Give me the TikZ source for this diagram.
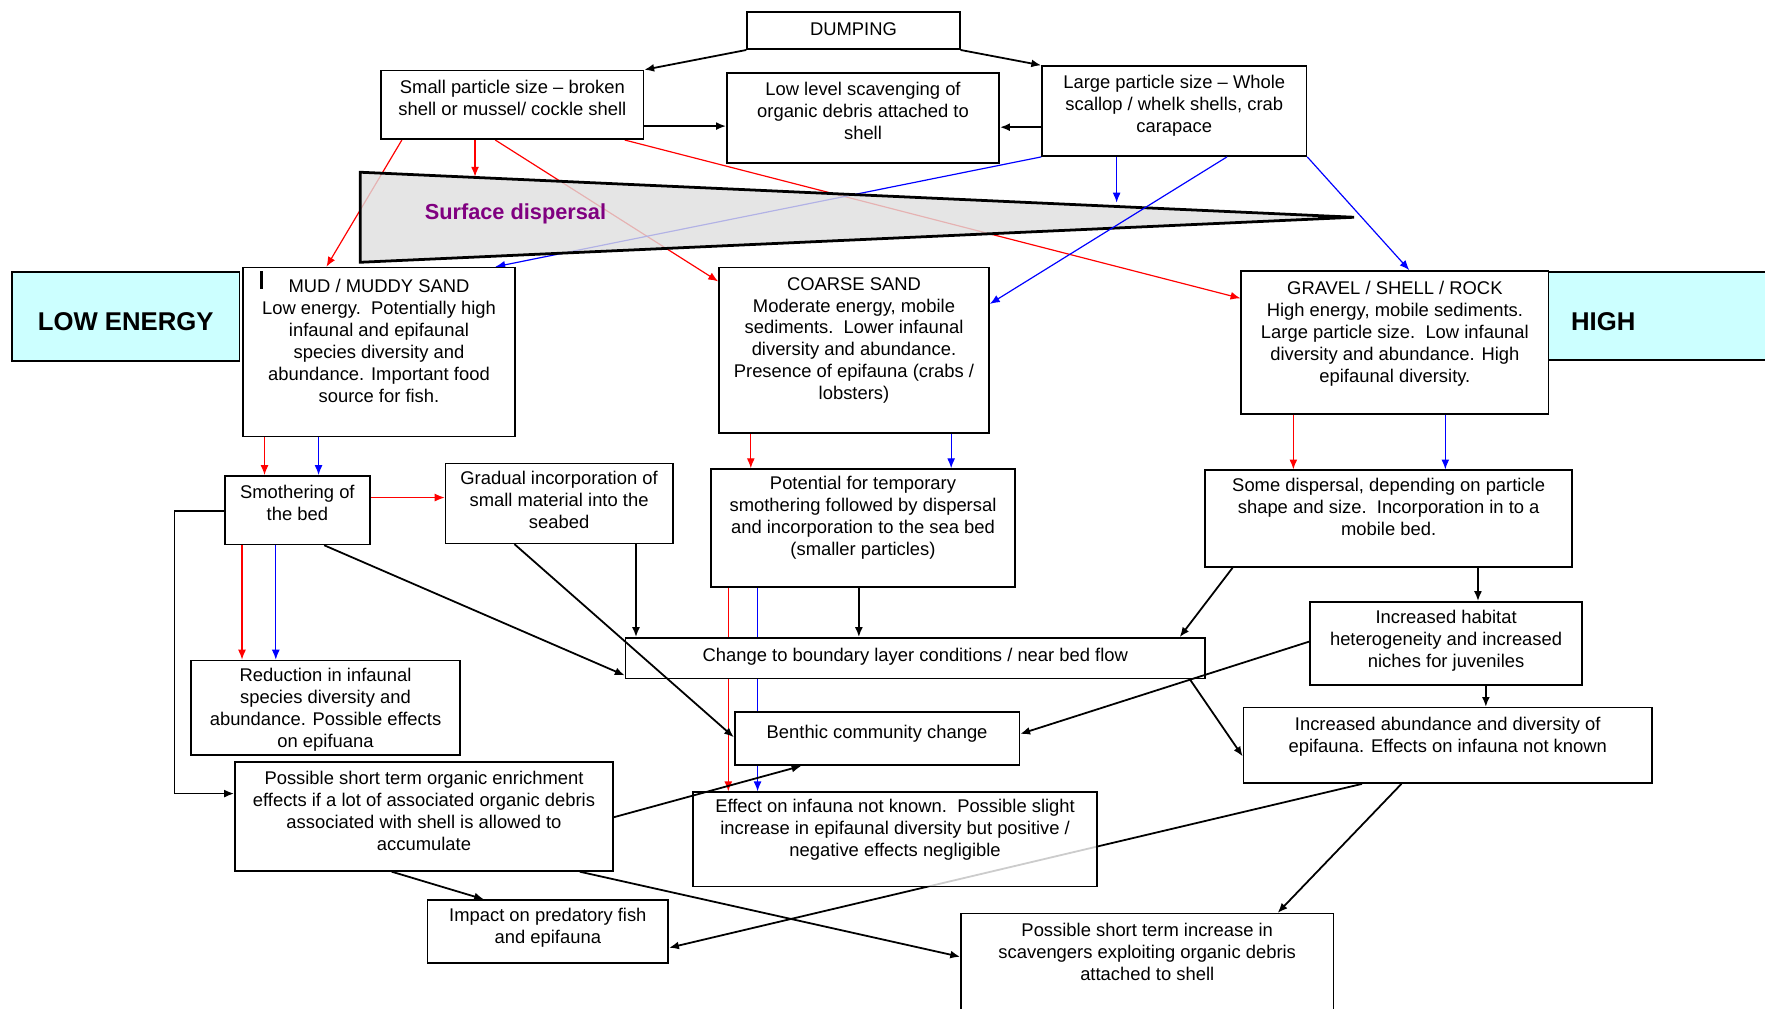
\documentclass[tikz,border=0pt]{standalone}
\usepackage{fontspec}
\setmainfont{Liberation Sans}
\usetikzlibrary{arrows.meta}
\usetikzlibrary{backgrounds}

\newcommand\boxfont{\fontsize{9.3}{11.1}\selectfont}
\definecolor{energycyan}{HTML}{CCFFFF}
\definecolor{sdpurple}{HTML}{800080}

\tikzset{
  box/.style={draw, line width=0.8pt, fill=white, align=center, inner sep=0pt, anchor=north west, font=\boxfont},
  energy/.style={draw, line width=0.8pt, fill=energycyan, inner sep=0pt, anchor=north west, font=\fontsize{13}{15}\selectfont\bfseries},
  arr/.style={-{Latex[length=5pt,width=4pt]}, line width=0.9pt},
  redarr/.style={arr, red, line width=0.6pt},
  bluearr/.style={arr, blue, line width=0.6pt}
}

\begin{document}
\begin{tikzpicture}[x=0.02cm, y=-0.02cm]
\useasboundingbox (0,0) rectangle (1568,896);

% top row
\node[box, minimum width=3.78cm, text height=0.42cm, text depth=0.24cm] (dump) at (663,10) {DUMPING};
\node[box, minimum width=4.66cm, text height=0.79cm, text depth=0.43cm] (small) at (338,62) {Small particle size -- broken\\shell or mussel/ cockle shell};
\node[box, minimum width=4.84cm, text height=1.18cm, text depth=0.42cm] (lowscav) at (645,64) {Low level scavenging of\\organic debris attached to\\shell};
\node[box, minimum width=4.70cm, text height=1.18cm, text depth=0.42cm] (large) at (925,58) {Large particle size -- Whole\\scallop / whelk shells, crab\\carapace};

% surface dispersal wedge
\coordinate (sdtl) at (320,153);
\coordinate (sdbl) at (320,233);
\coordinate (sdtip) at (1203,193);
\filldraw[fill=gray!25, fill opacity=0.8, line width=1.4pt] (sdtl) -- (sdtip) -- (sdbl) -- cycle;
\node[font=\fontsize{11}{13}\selectfont\bfseries, text=sdpurple, anchor=west, inner sep=0pt] (sdlabel) at (377,190) {Surface dispersal};
\coordinate (sdin1) at (422,157);
\coordinate (sdin2) at (992,180);

% sediment types
\node[energy, minimum width=4.04cm, text height=1.04cm, text depth=0.54cm] (lowe) at (10,241) {LOW ENERGY};
\node[box, minimum width=4.84cm, text height=2.39cm, text depth=0.61cm] (mud) at (215,237) {MUD / MUDDY SAND\\Low energy.\ \ Potentially high\\infaunal and epifaunal\\species diversity and\\abundance. Important food\\source for fish.};
\draw[line width=1.5pt] (232,241) -- (232,257);
\node[box, minimum width=4.80cm, text height=2.35cm, text depth=0.59cm] (coarse) at (638,237) {COARSE SAND\\Moderate energy, mobile\\sediments.\ \ Lower infaunal\\diversity and abundance.\\Presence of epifauna (crabs /\\lobsters)};
\node[box, minimum width=5.46cm, text height=1.98cm, text depth=0.56cm] (gravel) at (1102,240) {GRAVEL / SHELL / ROCK\\High energy, mobile sediments.\\Large particle size.\ \ Low infaunal\\diversity and abundance. High\\epifaunal diversity.};
\node[energy, text width=4.6cm, inner xsep=0.4cm, text height=1.04cm, text depth=0.52cm, align=left] (high) at (1375,241) {HIGH};

% effects
\node[box, minimum width=2.58cm, text height=0.79cm, text depth=0.43cm] (smoth) at (199,422) {Smothering of\\the bed};
\node[box, minimum width=4.04cm, text height=1.16cm, text depth=0.26cm] (gradual) at (395,411) {Gradual incorporation of\\small material into the\\seabed};
\node[box, minimum width=5.40cm, text height=1.53cm, text depth=0.57cm] (potential) at (631,416) {Potential for temporary\\smothering followed by dispersal\\and incorporation to the sea bed\\(smaller particles)};
\node[box, minimum width=6.52cm, text height=1.16cm, text depth=0.56cm] (somed) at (1070,417) {Some dispersal, depending on particle\\shape and size.\ \ Incorporation in to a\\mobile bed.};
\node[box, minimum width=10.30cm, text height=0.42cm, text depth=0.30cm] (change) at (555,566) {Change to boundary layer conditions / near bed flow};
\node[box, minimum width=4.84cm, text height=1.16cm, text depth=0.32cm] (habitat) at (1163,534) {Increased habitat\\heterogeneity and increased\\niches for juveniles};
\node[box, minimum width=4.78cm, text height=1.55cm, text depth=0.13cm] (reduct) at (169,586) {Reduction in infaunal\\species diversity and\\abundance. Possible effects\\on epifuana};
\node[box, minimum width=5.06cm, text height=0.46cm, text depth=0.48cm] (benthic) at (652,632) {Benthic community change};
\node[box, minimum width=7.26cm, text height=0.79cm, text depth=0.55cm] (abund) at (1104,628) {Increased abundance and diversity of\\epifauna. Effects on infauna not known};
\node[box, minimum width=6.72cm, text height=1.57cm, text depth=0.37cm] (organic) at (208,676) {Possible short term organic enrichment\\effects if a lot of associated organic debris\\associated with shell is allowed to\\accumulate};
\node[box, fill opacity=0.8, text opacity=1, minimum width=7.18cm, text height=1.14cm, text depth=0.54cm] (effect) at (615,703) {Effect on infauna not known.\ \ Possible slight\\increase in epifaunal diversity but positive /\\negative effects negligible};
\node[box, minimum width=4.28cm, text height=0.77cm, text depth=0.35cm] (impact) at (379,799) {Impact on predatory fish\\and epifauna};
\node[box, minimum width=6.62cm, text height=1.18cm, text depth=0.80cm] (scavinc) at (853,811) {Possible short term increase in\\scavengers exploiting organic debris\\attached to shell};

% connectors that run behind the wedge and the boxes
\begin{scope}[on background layer]
\fill[white] (0,0) rectangle (1568,896);
\draw[redarr] (small.south -| 357,0) -- (mud.north -| 290,0);
\draw[redarr] (small.south -| 440,0) -- (coarse.west |- 0,250);
\draw[redarr] (small.south -| 555,0) -- (gravel.west |- 0,265);
\draw[bluearr] (large.south west) -- (mud.north -| 440,0);
\draw[redarr] (potential.south -| 647,0) -- (effect.north -| 647,0);
\draw[bluearr] (potential.south -| 673,0) -- (effect.north -| 673,0);
\draw[arr] (abund.south -| 1210,0) -- (impact.east |- 0,842);
\end{scope}

% connectors
\draw[arr] (dump.south west) -- (small.north east);
\draw[arr] (dump.south east) -- (large.north west);
\draw[arr] (small.east |- 0,112) -- (lowscav.west |- 0,112);
\draw[arr] (large.west |- 0,113) -- (lowscav.east |- 0,113);
\draw[redarr] (small.south -| 422,0) -- (sdin1);
\draw[bluearr] (large.south -| 992,0) -- (sdin2);
\draw[bluearr] (large.south -| 1090,0) -- (coarse.east |- 0,270);
\draw[bluearr] (large.south east) -- (gravel.north -| 1252,0);
\draw[redarr] (mud.south -| 235,0) -- (smoth.north -| 235,0);
\draw[bluearr] (mud.south -| 283,0) -- (smoth.north -| 283,0);
\draw[redarr] (coarse.south -| 667,0) -- (potential.north -| 667,0);
\draw[bluearr] (coarse.south -| 845,0) -- (potential.north -| 845,0);
\draw[redarr] (gravel.south -| 1149,0) -- (somed.north -| 1149,0);
\draw[bluearr] (gravel.south -| 1284,0) -- (somed.north -| 1284,0);
\draw[redarr] (smoth.east |- 0,442) -- (gradual.west |- 0,442);
\draw[arr] (smoth.west |- 0,454) -- ++(-44,0) |- (organic.west |- 0,705);
\draw[redarr] (smoth.south -| 215,0) -- (reduct.north -| 215,0);
\draw[bluearr] (smoth.south -| 245,0) -- (reduct.north -| 245,0);
\draw[arr] (smoth.south -| 288,0) -- (change.west |- 0,600);
\draw[arr] (gradual.south -| 457,0) -- (benthic.west |- 0,655);
\draw[arr] (gradual.south -| 565,0) -- (change.north -| 565,0);
\draw[arr] (potential.south -| 763,0) -- (change.north -| 763,0);
\draw[arr] (somed.south -| 1095,0) -- (change.north -| 1048,0);
\draw[arr] (somed.south -| 1313,0) -- (habitat.north -| 1313,0);
\draw[arr] (habitat.south -| 1320,0) -- (abund.north -| 1320,0);
\draw[arr] (habitat.west |- 0,570) -- (benthic.east |- 0,652);
\draw[arr] (change.south -| 1057,0) -- (abund.west |- 0,672);
\draw[arr] (abund.south -| 1245,0) -- (scavinc.north -| 1135,0);
\draw[arr] (organic.east |- 0,726) -- (benthic.south -| 712,0);
\draw[arr] (organic.south -| 348,0) -- (impact.north -| 430,0);
\draw[arr] (organic.south -| 515,0) -- (scavinc.west |- 0,850);
\end{tikzpicture}
\end{document}
